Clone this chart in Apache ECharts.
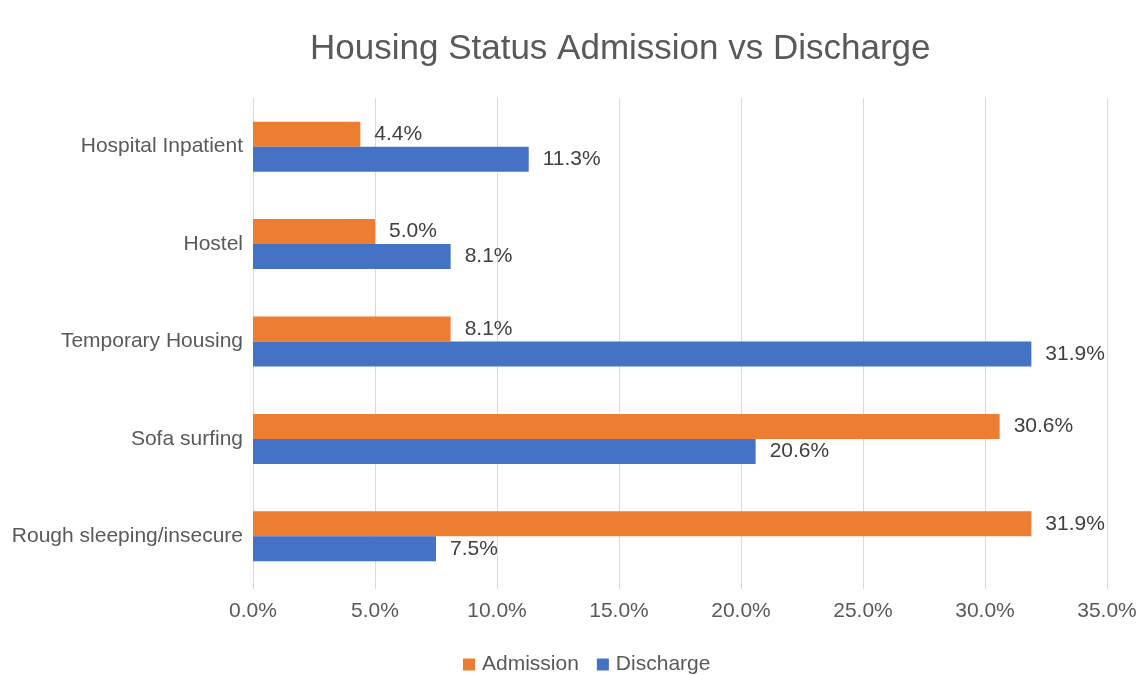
<!DOCTYPE html>
<html>
<head>
<meta charset="utf-8">
<script src="https://cdn.jsdelivr.net/npm/echarts@6/dist/echarts.min.js"></script>
<style>
  html, body { margin: 0; padding: 0; background: #fff; }
  #chart { width: 1147px; height: 675px; }
</style>
</head>
<body>
<div id="chart"></div>
<script>
// 住房状态 入院 vs 出院
const categories = ['Hospital Inpatient', 'Hostel', 'Temporary Housing', 'Sofa surfing', 'Rough sleeping/insecure']
const admission = [4.4, 5.0, 8.1, 30.6, 31.9]
const discharge = [11.3, 8.1, 31.9, 20.6, 7.5]
const xTicks = [0, 5, 10, 15, 20, 25, 30, 35]

const font = '"Liberation Sans", Arial, Helvetica, sans-serif'
const labelOpt = {
  show: true,
  position: 'right',
  distance: 14,
  color: '#404040',
  fontSize: 21,
  fontFamily: font,
  formatter: p => p.value.toFixed(1) + '%'
}

const chart = echarts.init(document.getElementById('chart'))
chart.setOption({
  animation: false,
  color: ['#ED7D31', '#4472C4'],
  title: {
    text: 'Housing Status Admission vs Discharge',
    left: 305,
    top: 27,
    textStyle: { color: '#595959', fontSize: 35, fontWeight: 'normal', fontFamily: font }
  },
  legend: {
    top: 649,
    left: 458,
    itemWidth: 12,
    itemHeight: 12,
    itemGap: 18,
    icon: 'rect',
    data: ['Admission', 'Discharge'],
    textStyle: { color: '#595959', fontSize: 21, fontFamily: font, padding: [0, 0, 0, 2] }
  },
  grid: { left: 253, right: 40, top: 98, bottom: 90 },
  xAxis: {
    type: 'value',
    min: xTicks[0],
    max: xTicks[xTicks.length - 1],
    interval: 5,
    axisLine: { show: false },
    axisTick: { show: true, length: 4, lineStyle: { color: '#d9d9d9' } },
    splitLine: { lineStyle: { color: '#d9d9d9', width: 1 } },
    axisLabel: {
      color: '#595959',
      fontSize: 21,
      fontFamily: font,
      margin: 16,
      formatter: v => v.toFixed(1) + '%'
    }
  },
  yAxis: {
    type: 'category',
    data: categories,
    inverse: true,
    axisLine: { show: false },
    axisTick: { show: false },
    axisLabel: { color: '#595959', fontSize: 21, fontFamily: font, margin: 10 }
  },
  series: [
    { name: 'Admission', type: 'bar', data: admission, barWidth: 25, barGap: '0%', label: labelOpt },
    { name: 'Discharge', type: 'bar', data: discharge, barWidth: 25, barGap: '0%', label: labelOpt }
  ]
})
</script>
</body>
</html>
